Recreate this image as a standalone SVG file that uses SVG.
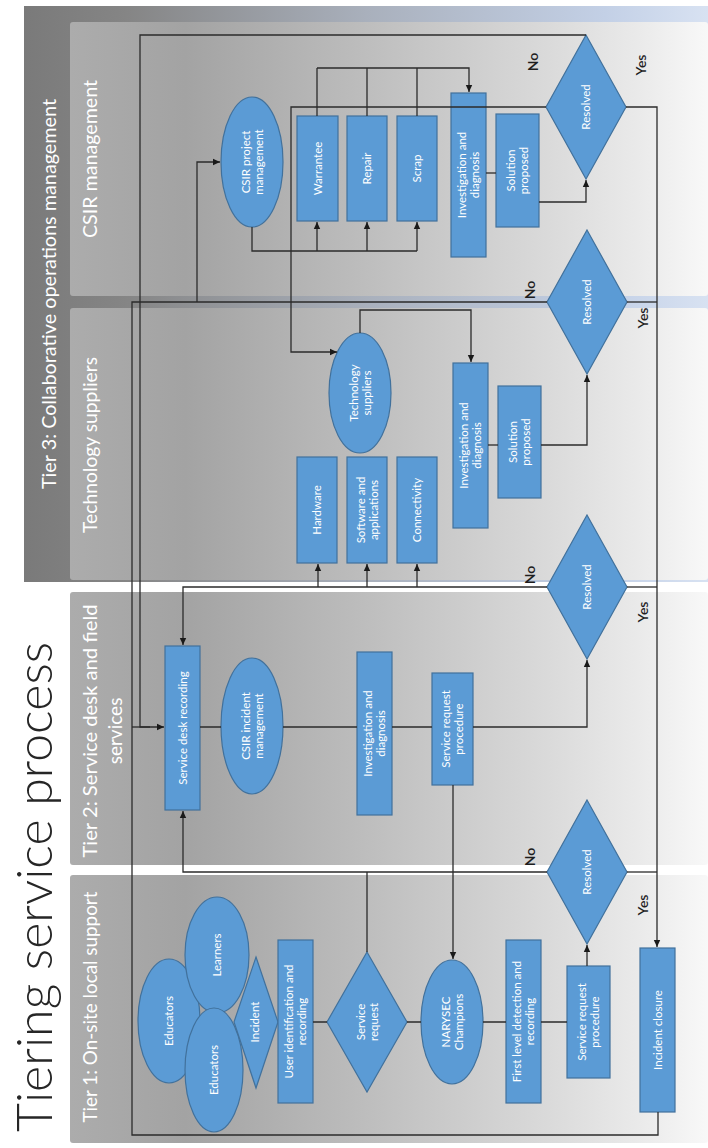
<svg xmlns="http://www.w3.org/2000/svg" width="708" height="1148" viewBox="0 0 708 1148">
<defs>
<linearGradient id="gT3" x1="0" y1="0" x2="1" y2="0">
<stop offset="0" stop-color="#7a7a7a"/><stop offset="0.15" stop-color="#858585"/><stop offset="0.5" stop-color="#a9b0bc"/><stop offset="0.85" stop-color="#c3d0e6"/><stop offset="1" stop-color="#d8e2f2"/>
</linearGradient>
<linearGradient id="gLane" x1="0" y1="0" x2="1" y2="0">
<stop offset="0" stop-color="#acacac"/><stop offset="0.18" stop-color="#a3a3a3"/><stop offset="0.45" stop-color="#bcbcbc"/><stop offset="0.75" stop-color="#dadada"/><stop offset="0.9" stop-color="#ebebeb"/><stop offset="1" stop-color="#f8f8f8"/>
</linearGradient>
<marker id="arr" markerWidth="8" markerHeight="8" refX="7" refY="4" orient="auto" markerUnits="userSpaceOnUse">
<path d="M0,0.8 L7,4 L0,7.2 Z" fill="#1a1a1a"/>
</marker>
<style>
.node{fill:#5b9bd5;stroke:#41719c;stroke-width:1.2}
.nt{font-family:Lato,"Liberation Sans",sans-serif;font-size:11.5px;fill:#ffffff;text-anchor:middle}
.lane{fill:url(#gLane)}
.lbl{font-family:Lato,"Liberation Sans",sans-serif;fill:#ffffff;text-anchor:middle}
.yn{font-family:Lato,"Liberation Sans",sans-serif;font-size:14px;font-weight:600;fill:#1e1e1e;text-anchor:middle}
.c{fill:none;stroke:#2b2b2b;stroke-width:1.3}
.ca{fill:none;stroke:#2b2b2b;stroke-width:1.3;marker-end:url(#arr)}
</style>
</defs>
<rect width="708" height="1148" fill="#ffffff"/>
<g id="title">
<text transform="translate(52,1132) rotate(-90)" font-family="Lato,'Open Sans',sans-serif" font-weight="300" font-size="50" fill="#262626" textLength="490" lengthAdjust="spacingAndGlyphs">Tiering service process</text>
</g>
<g id="lanes">
<rect x="24" y="6" width="684" height="576" fill="url(#gT3)"/>
<text class="lbl" transform="translate(56,294) rotate(-90)" font-size="20" textLength="390" lengthAdjust="spacingAndGlyphs">Tier 3: Collaborative operations management</text>
<rect class="lane" x="70" y="22" width="638" height="274" rx="3"/>
<text class="lbl" transform="translate(97,159) rotate(-90)" font-size="20" textLength="158" lengthAdjust="spacingAndGlyphs">CSIR management</text>
<rect class="lane" x="70" y="308" width="638" height="272" rx="3"/>
<text class="lbl" transform="translate(97,445) rotate(-90)" font-size="19" textLength="176" lengthAdjust="spacingAndGlyphs">Technology suppliers</text>
<rect class="lane" x="70" y="592" width="638" height="273" rx="3"/>
<text class="lbl" transform="translate(0,731) rotate(-90)" font-size="19"><tspan x="0" y="97" textLength="253" lengthAdjust="spacingAndGlyphs">Tier 2: Service  desk and field</tspan><tspan x="0" y="122">services</tspan></text>
<rect class="lane" x="70" y="875" width="638" height="268" rx="3"/>
<text class="lbl" transform="translate(97,1007) rotate(-90)" font-size="19" textLength="231" lengthAdjust="spacingAndGlyphs">Tier 1: On-site local support</text>
</g>
<g id="n_csir_pm"><ellipse class="node" cx="252" cy="162" rx="31" ry="65"/><text class="nt" transform="translate(252,162) rotate(-90)"><tspan x="0" y="-2.5">CSIR project</tspan><tspan x="0" y="10.5">management</tspan></text></g>
<g id="n_warrantee"><rect class="node" x="297" y="116" width="41" height="105"/><text class="nt" transform="translate(317.5,168.5) rotate(-90)" y="4">Warrantee</text></g>
<g id="n_repair"><rect class="node" x="347" y="116" width="40" height="105"/><text class="nt" transform="translate(367,168.5) rotate(-90)" y="4">Repair</text></g>
<g id="n_scrap"><rect class="node" x="397" y="116" width="40" height="105"/><text class="nt" transform="translate(417,168.5) rotate(-90)" y="4">Scrap</text></g>
<g id="n_csir_inv"><rect class="node" x="451" y="93" width="35" height="164"/><text class="nt" transform="translate(468.5,175) rotate(-90)"><tspan x="0" y="-2.5">Investigation and</tspan><tspan x="0" y="10.5">diagnosis</tspan></text></g>
<g id="n_csir_sol"><rect class="node" x="496" y="114" width="43" height="113"/><text class="nt" transform="translate(517.5,170.5) rotate(-90)"><tspan x="0" y="-2.5">Solution</tspan><tspan x="0" y="10.5">proposed</tspan></text></g>
<g id="n_csir_res"><path class="node" d="M586,35 L626,107 L586,179 L546,107 Z"/><text class="nt" transform="translate(586,107) rotate(-90)" y="4">Resolved</text></g>
<g id="n_tech"><ellipse class="node" cx="360" cy="393" rx="31" ry="60"/><text class="nt" transform="translate(360,393) rotate(-90)"><tspan x="0" y="-2.5">Technology</tspan><tspan x="0" y="10.5">suppliers</tspan></text></g>
<g id="n_hw"><rect class="node" x="297" y="457" width="40" height="106"/><text class="nt" transform="translate(317,510) rotate(-90)" y="4">Hardware</text></g>
<g id="n_sw"><rect class="node" x="347" y="457" width="40" height="106"/><text class="nt" transform="translate(367,510) rotate(-90)"><tspan x="0" y="-2.5">Software and</tspan><tspan x="0" y="10.5">applications</tspan></text></g>
<g id="n_conn"><rect class="node" x="397" y="457" width="40" height="106"/><text class="nt" transform="translate(417,510) rotate(-90)" y="4">Connectivity</text></g>
<g id="n_tech_inv"><rect class="node" x="453" y="363" width="35" height="165"/><text class="nt" transform="translate(470.5,445.5) rotate(-90)"><tspan x="0" y="-2.5">Investigation and</tspan><tspan x="0" y="10.5">diagnosis</tspan></text></g>
<g id="n_tech_sol"><rect class="node" x="498" y="386" width="43" height="112"/><text class="nt" transform="translate(519.5,442) rotate(-90)"><tspan x="0" y="-2.5">Solution</tspan><tspan x="0" y="10.5">proposed</tspan></text></g>
<g id="n_tech_res"><path class="node" d="M587,230 L627,302 L587,374 L547,302 Z"/><text class="nt" transform="translate(587,302) rotate(-90)" y="4">Resolved</text></g>
<g id="n_sdr"><rect class="node" x="165" y="646" width="35" height="164"/><text class="nt" transform="translate(182.5,728) rotate(-90)" y="4">Service desk recording</text></g>
<g id="n_csir_im"><ellipse class="node" cx="252" cy="726" rx="31" ry="68"/><text class="nt" transform="translate(252,726) rotate(-90)"><tspan x="0" y="-2.5">CSIR incident</tspan><tspan x="0" y="10.5">management</tspan></text></g>
<g id="n_t2_inv"><rect class="node" x="357" y="652" width="35" height="163"/><text class="nt" transform="translate(374.5,733.5) rotate(-90)"><tspan x="0" y="-2.5">Investigation and</tspan><tspan x="0" y="10.5">diagnosis</tspan></text></g>
<g id="n_t2_srp"><rect class="node" x="432" y="673" width="41" height="112"/><text class="nt" transform="translate(452.5,729) rotate(-90)"><tspan x="0" y="-2.5">Service request</tspan><tspan x="0" y="10.5">procedure</tspan></text></g>
<g id="n_t2_res"><path class="node" d="M587,515 L627,587 L587,659 L547,587 Z"/><text class="nt" transform="translate(587,587) rotate(-90)" y="4">Resolved</text></g>
<g id="n_edu1"><ellipse class="node" cx="169" cy="1021" rx="31" ry="62"/><text class="nt" transform="translate(169,1021) rotate(-90)" y="4">Educators</text></g>
<g id="n_learn"><ellipse class="node" cx="217" cy="955" rx="32" ry="58"/><text class="nt" transform="translate(217,955) rotate(-90)" y="4">Learners</text></g>
<g id="n_edu2"><ellipse class="node" cx="214" cy="1070" rx="29" ry="62"/><text class="nt" transform="translate(214,1070) rotate(-90)" y="4">Educators</text></g>
<g id="n_incident"><path class="node" d="M256,957 L278,1022 L256,1088 L234,1022 Z"/><text class="nt" transform="translate(256,1022) rotate(-90)" y="3" font-size="8">Incident</text></g>
<g id="n_userid"><rect class="node" x="278" y="940" width="35" height="163"/><text class="nt" transform="translate(295.5,1021.5) rotate(-90)"><tspan x="0" y="-2.5">User identification and</tspan><tspan x="0" y="10.5">recording</tspan></text></g>
<g id="n_sreq"><path class="node" d="M367,952 L407,1022 L367,1092 L327,1022 Z"/><text class="nt" transform="translate(367,1022) rotate(-90)"><tspan x="0" y="-2.5">Service</tspan><tspan x="0" y="10.5">request</tspan></text></g>
<g id="n_narysec"><ellipse class="node" cx="452" cy="1022" rx="31" ry="62"/><text class="nt" transform="translate(452,1022) rotate(-90)"><tspan x="0" y="-2.5">NARYSEC</tspan><tspan x="0" y="10.5">Champions</tspan></text></g>
<g id="n_fld"><rect class="node" x="506" y="940" width="35" height="163"/><text class="nt" transform="translate(523.5,1021.5) rotate(-90)"><tspan x="0" y="-2.5">First level detection and</tspan><tspan x="0" y="10.5">recording</tspan></text></g>
<g id="n_t1_srp"><rect class="node" x="567" y="966" width="43" height="112"/><text class="nt" transform="translate(588.5,1022) rotate(-90)"><tspan x="0" y="-2.5">Service request</tspan><tspan x="0" y="10.5">procedure</tspan></text></g>
<g id="n_t1_res"><path class="node" d="M587,800 L627,872 L587,944 L547,872 Z"/><text class="nt" transform="translate(587,872) rotate(-90)" y="4">Resolved</text></g>
<g id="n_closure"><rect class="node" x="640" y="948" width="35" height="164"/><text class="nt" transform="translate(657.5,1030) rotate(-90)" y="4">Incident closure</text></g>
<g id="connectors">
<path class="c" d="M252,227 V251 H417"/>
<path class="ca" d="M317,251 V222"/><path class="ca" d="M367,251 V222"/><path class="ca" d="M417,251 V222"/>
<path class="c" d="M317,116 V68 M367,116 V68 M417,116 V68"/>
<path class="ca" d="M317,68 H469 V92"/>
<path class="c" d="M486,173 H496"/>
<path class="ca" d="M539,202 H586 V180"/>
<path class="ca" d="M586,35 H140 V727 H164"/>
<path class="ca" d="M546,107 H291 V352 H337"/>
<path class="ca" d="M626,107 H657 V947"/>
<path class="c" d="M547,302 H132 V1135 H658 V1112"/>
<path class="ca" d="M197,302 V162 H220"/>
<path class="c" d="M132,727 H150"/>
<path class="c" d="M627,302 H657"/>
<path class="ca" d="M360,333 V310 H471 V362"/>
<path class="c" d="M488,445 H498"/>
<path class="ca" d="M541,445 H587 V375"/>
<path class="ca" d="M547,587 H183 V645"/>
<path class="ca" d="M318,587 V564"/><path class="ca" d="M367,587 V564"/><path class="ca" d="M417,587 V564"/>
<path class="c" d="M627,587 H657"/>
<path class="c" d="M200,727 H221 M283,727 H357 M392,727 H432"/>
<path class="ca" d="M473,727 H587 V660"/>
<path class="ca" d="M453,785 V959"/>
<path class="ca" d="M547,872 H183 V811"/>
<path class="c" d="M367,952 V872"/>
<path class="c" d="M627,872 H657"/>
<path class="c" d="M313,1022 H327 M407,1022 H421 M483,1022 H506 M541,1022 H567"/>
<path class="ca" d="M587,966 V945"/>
</g>
<g id="labels">
<text class="yn" transform="translate(533,62) rotate(-90)" y="5">No</text>
<text class="yn" transform="translate(641,65) rotate(-90)" y="5">Yes</text>
<text class="yn" transform="translate(530,290) rotate(-90)" y="5">No</text>
<text class="yn" transform="translate(643,318) rotate(-90)" y="5">Yes</text>
<text class="yn" transform="translate(530,575) rotate(-90)" y="5">No</text>
<text class="yn" transform="translate(643,612) rotate(-90)" y="5">Yes</text>
<text class="yn" transform="translate(530,857) rotate(-90)" y="5">No</text>
<text class="yn" transform="translate(643,905) rotate(-90)" y="5">Yes</text>
</g>
</svg>
